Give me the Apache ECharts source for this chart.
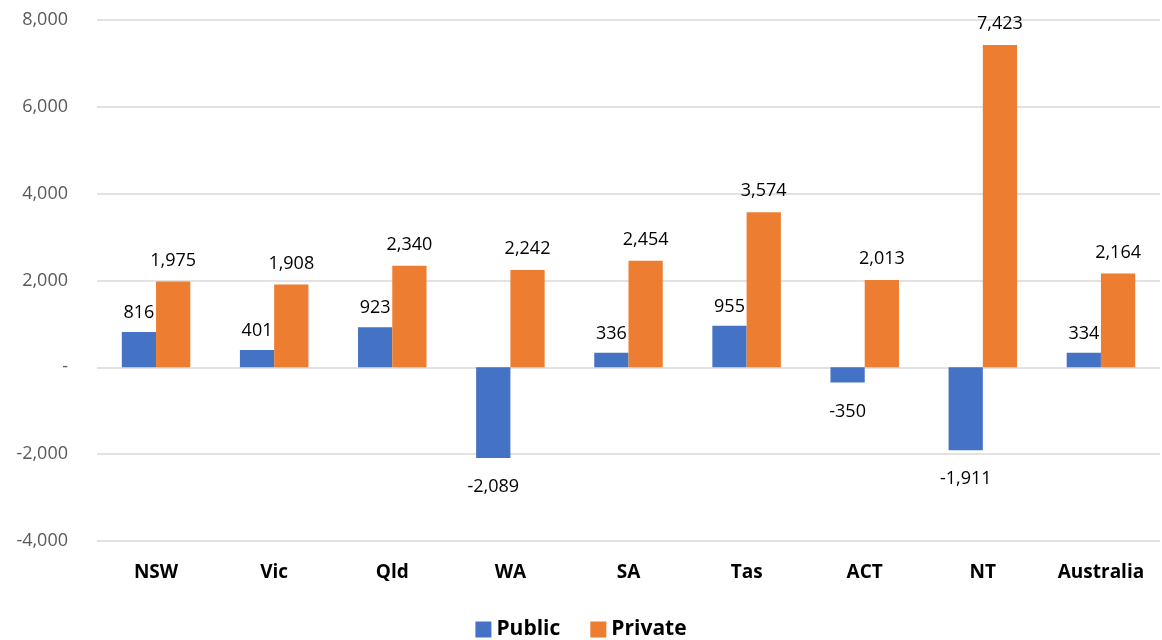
<!DOCTYPE html>
<html>
<head>
<meta charset="utf-8">
<script src="https://cdn.jsdelivr.net/npm/echarts@6/dist/echarts.min.js"></script>
<style>
  html, body { margin: 0; padding: 0; background: #fff; }
  #chart { width: 1162px; height: 640px; }
</style>
</head>
<body>
<div id="chart"></div>
<script>
const categories = ['NSW', 'Vic', 'Qld', 'WA', 'SA', 'Tas', 'ACT', 'NT', 'Australia'];
const publicValues = [816, 401, 923, -2089, 336, 955, -350, -1911, 334];
const privateValues = [1975, 1908, 2340, 2242, 2454, 3574, 2013, 7423, 2164];

const fontFamily = '"Open Sans", "Noto Sans", sans-serif';

function fmt(v) {
  return v.toLocaleString('en-US');
}

// negative bars get their label underneath
function toItems(values) {
  return values.map(v => ({
    value: v,
    label: v < 0 ? { position: 'bottom', distance: 20 } : { position: 'top' }
  }));
}

const chart = echarts.init(document.getElementById('chart'));
chart.setOption({
  animation: false,
  textStyle: { fontFamily: fontFamily },
  grid: { left: 97, right: 2, top: 20, bottom: 99 },
  legend: {
    top: 614,
    left: 'center',
    itemWidth: 16,
    itemHeight: 16,
    itemGap: 30,
    icon: 'rect',
    textStyle: { fontSize: 21, fontWeight: 'bold', color: '#000', fontFamily: fontFamily }
  },
  xAxis: {
    type: 'category',
    data: categories,
    axisLine: { show: false },
    axisTick: { show: false },
    axisLabel: {
      interval: 0,
      fontSize: 19,
      fontWeight: 'bold',
      color: '#000',
      margin: 22
    }
  },
  yAxis: {
    type: 'value',
    min: -4000,
    max: 8000,
    interval: 2000,
    axisLine: { show: false },
    axisTick: { show: false },
    splitLine: { lineStyle: { color: '#d9d9d9', width: 1.5 } },
    axisLabel: {
      fontSize: 18,
      color: '#595959',
      margin: 29,
      formatter: v => (v === 0 ? '-' : fmt(v))
    }
  },
  series: [
    {
      name: 'Public',
      type: 'bar',
      data: toItems(publicValues),
      barGap: '0%',
      barCategoryGap: '42%',
      itemStyle: { color: '#4472c4' },
      label: {
        show: true,
        distance: 10,
        fontSize: 18,
        color: '#000',
        formatter: p => fmt(p.value)
      }
    },
    {
      name: 'Private',
      type: 'bar',
      data: toItems(privateValues),
      barGap: '0%',
      barCategoryGap: '42%',
      itemStyle: { color: '#ed7d31' },
      label: {
        show: true,
        distance: 12,
        fontSize: 18,
        color: '#000',
        formatter: p => fmt(p.value)
      }
    }
  ]
});
</script>
</body>
</html>
